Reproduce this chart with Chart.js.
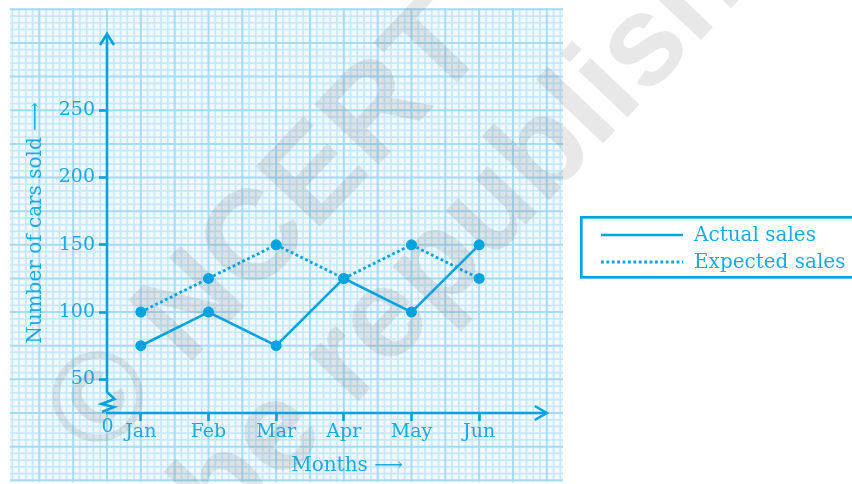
<!DOCTYPE html>
<html><head><meta charset="utf-8">
<script src="https://cdn.jsdelivr.net/npm/chart.js@4/dist/chart.umd.min.js"></script>
<style>html,body{margin:0;padding:0;background:#fff;}canvas{display:block}</style>
</head><body>
<canvas id="c" width="852" height="484"></canvas>
<script>
// ---- data ----
const MONTHS = ['Jan', 'Feb', 'Mar', 'Apr', 'May', 'Jun'];
const ACTUAL_SALES = [75, 100, 75, 125, 100, 150];
const EXPECTED_SALES = [100, 125, 150, 125, 150, 125];
const Y_TICKS = [50, 100, 150, 200, 250];
const SERIES_LABELS = ['Actual sales', 'Expected sales'];
const Y_TITLE = 'Number of cars sold ⟶';
const X_TITLE = 'Months ⟶';
const ZERO_LABEL = '0';
const WATERMARK = ['© NCERT', 'not to be republished'];

// ---- styles ----
const LINE = '#03A3E0';
const TEXT = '#1CA9E2';
const SERIF = '"DejaVu Serif", "Liberation Serif", serif';
const PAPER = { l: 10, t: 8, r: 563, b: 482 };

const paperPlugin = {
  id: 'paper',
  beforeDraw(chart) {
    const { ctx } = chart;
    const xs = chart.scales.x, ys = chart.scales.y;
    ctx.save();
    ctx.fillStyle = '#fff';
    ctx.fillRect(0, 0, chart.width, chart.height);
    ctx.beginPath();
    ctx.rect(PAPER.l, PAPER.t, PAPER.r - PAPER.l, PAPER.b - PAPER.t);
    ctx.clip();
    ctx.fillStyle = '#F1F9FE';
    ctx.fillRect(PAPER.l, PAPER.t, PAPER.r - PAPER.l, PAPER.b - PAPER.t);
    const passes = [
      { major: false, color: '#C6E8F9', w: 1.7 },
      { major: true, color: '#A6DBF4', w: 2 }
    ];
    for (const p of passes) {
      ctx.strokeStyle = p.color;
      ctx.lineWidth = p.w;
      ctx.beginPath();
      for (let k = -40; k <= 120; k++) {
        if ((k % 5 === 0) !== p.major) continue;
        const px = xs.getPixelForValue(xs.min + k * 0.1);
        if (px < PAPER.l - 3 || px > PAPER.r + 3) continue;
        ctx.moveTo(px, PAPER.t); ctx.lineTo(px, PAPER.b);
      }
      for (let k = -40; k <= 120; k++) {
        if ((k % 5 === 0) !== p.major) continue;
        const py = ys.getPixelForValue(ys.min + k * 5);
        if (py < PAPER.t - 3 || py > PAPER.b + 3) continue;
        ctx.moveTo(PAPER.l, py); ctx.lineTo(PAPER.r, py);
      }
      ctx.stroke();
    }
    ctx.restore();
  },
  beforeDatasetsDraw(chart) {
    const { ctx, chartArea } = chart;
    const xs = chart.scales.x;
    // watermark
    ctx.save();
    ctx.fillStyle = 'rgba(110,110,110,0.16)';
    ctx.font = 'bold 128px "Liberation Sans", Arial, sans-serif';
    ctx.textAlign = 'center';
    ctx.textBaseline = 'middle';
    const ang = -46.5 * Math.PI / 180;
    ctx.save(); ctx.translate(268, 230); ctx.rotate(ang); ctx.fillText(WATERMARK[0], 0, 0); ctx.restore();
    ctx.save(); ctx.translate(378, 329); ctx.rotate(ang); ctx.fillText(WATERMARK[1], 0, 0); ctx.restore();
    ctx.restore();

    // axes with arrows
    const ax = chartArea.left, ay = chartArea.bottom;
    const xEnd = xs.getPixelForValue(7.0);
    ctx.save();
    ctx.strokeStyle = LINE;
    ctx.lineWidth = 2.6;
    ctx.lineJoin = 'miter';
    ctx.beginPath();
    ctx.moveTo(ax, chartArea.top + 1);
    ctx.lineTo(ax, ay - 21);
    ctx.lineTo(ax + 7.5, ay - 14);
    ctx.lineTo(ax - 5.5, ay - 9);
    ctx.lineTo(ax + 7, ay - 6);
    ctx.lineTo(ax - 5, ay - 1);
    ctx.stroke();
    ctx.beginPath();
    ctx.moveTo(ax - 7, chartArea.top + 12);
    ctx.lineTo(ax, chartArea.top + 1);
    ctx.lineTo(ax + 7, chartArea.top + 12);
    ctx.stroke();
    ctx.beginPath();
    ctx.moveTo(ax - 1, ay);
    ctx.lineTo(xEnd - 1, ay);
    ctx.stroke();
    ctx.beginPath();
    ctx.moveTo(xEnd - 12, ay - 7);
    ctx.lineTo(xEnd, ay);
    ctx.lineTo(xEnd - 12, ay + 7);
    ctx.stroke();
    // zero label
    ctx.fillStyle = TEXT;
    ctx.font = '19px ' + SERIF;
    ctx.textAlign = 'center';
    ctx.textBaseline = 'middle';
    ctx.fillText(ZERO_LABEL, ax + 0.5, ay + 14);
    ctx.restore();
  },
  afterDraw(chart) {
    const { ctx } = chart;
    ctx.save();
    ctx.strokeStyle = LINE;
    ctx.lineWidth = 2.7;
    ctx.strokeRect(581.3, 217.3, 300, 60);
    const rows = [235, 262];
    chart.data.datasets.forEach((ds, i) => {
      ctx.beginPath();
      ctx.strokeStyle = ds.borderColor;
      ctx.lineWidth = ds.borderWidth;
      ctx.setLineDash(ds.borderDash || []);
      ctx.moveTo(601, rows[i]);
      ctx.lineTo(683, rows[i]);
      ctx.stroke();
      ctx.setLineDash([]);
      ctx.fillStyle = TEXT;
      ctx.font = '20px ' + SERIF;
      ctx.textAlign = 'left';
      ctx.textBaseline = 'alphabetic';
      ctx.fillText(ds.label, 694, rows[i] + 6);
    });
    ctx.restore();
  }
};

const tickGrid = {
  display: true, drawOnChartArea: false, drawTicks: true,
  tickLength: 8, tickColor: LINE, tickWidth: 2.6
};

new Chart(document.getElementById('c'), {
  type: 'line',
  data: {
    datasets: [
      {
        label: SERIES_LABELS[0],
        data: ACTUAL_SALES.map((v, i) => ({ x: i + 1, y: v })),
        borderColor: LINE, backgroundColor: LINE,
        borderWidth: 2.6, pointRadius: 5.5, pointBorderWidth: 0,
        tension: 0, fill: false
      },
      {
        label: SERIES_LABELS[1],
        data: EXPECTED_SALES.map((v, i) => ({ x: i + 1, y: v })),
        borderColor: LINE, backgroundColor: LINE,
        borderWidth: 2.8, borderDash: [2.8, 2.6], pointRadius: 5.5, pointBorderWidth: 0,
        tension: 0, fill: false
      }
    ]
  },
  options: {
    responsive: false, animation: false, devicePixelRatio: 1,
    layout: { padding: { left: 0, top: 33, right: 265, bottom: 0 } },
    plugins: { legend: { display: false }, tooltip: { enabled: false } },
    scales: {
      x: {
        type: 'linear', min: 0.5, max: 7.594,
        afterBuildTicks: s => { s.ticks = MONTHS.map((m, i) => ({ value: i + 1 })); },
        afterFit: s => { s.height = 71; },
        ticks: {
          callback: v => MONTHS[v - 1], color: TEXT,
          font: { family: SERIF, size: 19 }, padding: 0,
          maxRotation: 0, autoSkip: false
        },
        grid: tickGrid,
        border: { display: false },
        title: {
          display: true, text: X_TITLE, color: TEXT,
          font: { family: SERIF, size: 20 }, padding: { top: 0, bottom: 6 }
        }
      },
      y: {
        type: 'linear', min: 25, max: 307.4,
        afterBuildTicks: s => { s.ticks = Y_TICKS.map(v => ({ value: v })); },
        afterFit: s => { s.width = 107; },
        ticks: { color: TEXT, font: { family: SERIF, size: 19 }, padding: 4 },
        grid: tickGrid,
        border: { display: false },
        title: {
          display: true, text: Y_TITLE, color: TEXT,
          font: { family: SERIF, size: 20 }, padding: { top: 24, bottom: 0 }
        }
      }
    }
  },
  plugins: [paperPlugin]
});
</script>
</body></html>
